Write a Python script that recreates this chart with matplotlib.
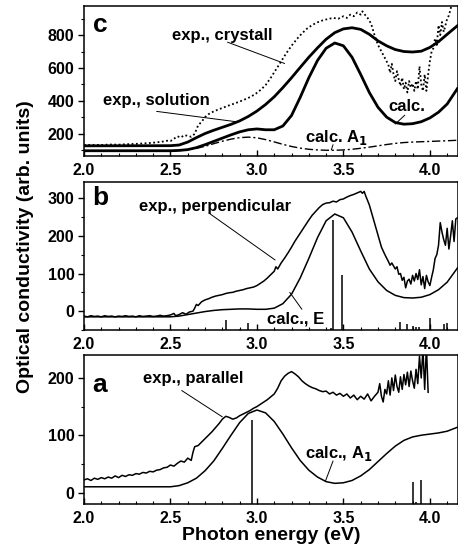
import matplotlib
matplotlib.use('Agg')
import matplotlib.pyplot as plt
from matplotlib.ticker import MultipleLocator

plt.rcParams['font.family'] = ['Liberation Sans', 'DejaVu Sans']
plt.rcParams['font.weight'] = 'bold'
plt.rcParams['axes.linewidth'] = 1.1

# ---- panel c: solution / crystal spectra and calculation ----
c_x = [2.00, 2.50, 2.55, 2.60, 2.65, 2.70, 2.75, 2.80, 2.85, 2.90, 2.95, 3.00, 3.05, 3.10,
       3.15, 3.20, 3.25, 3.30, 3.35, 3.40, 3.45, 3.50, 3.55, 3.60, 3.65, 3.70, 3.75, 3.80,
       3.85, 3.90, 3.95, 4.00, 4.05, 4.10, 4.16]
c_solution = [125, 126, 130, 148, 175, 200, 220, 238, 256, 277, 304, 337, 377, 424,
              480, 540, 603, 665, 722, 775, 815, 838, 845, 835, 805, 765, 735, 712,
              700, 697, 702, 725, 760, 805, 858]
c_calc = [95, 95, 97, 102, 114, 132, 152, 172, 192, 210, 223, 228, 223, 223,
          246, 310, 420, 540, 645, 720, 752, 735, 665, 560, 450, 360, 300, 267,
          257, 260, 272, 295, 330, 380, 475]
c_calc_a1 = [92, 93, 96, 102, 110, 122, 138, 153, 166, 175, 178, 174, 163, 149,
             134, 121, 111, 104, 100, 98, 98, 100, 104, 110, 117, 125, 133, 140,
             145, 148, 150, 152, 154, 156, 159]

cryst_x = [2.00, 2.05, 2.10, 2.15, 2.20, 2.25, 2.30, 2.35, 2.40, 2.45, 2.48, 2.50, 2.52,
           2.54, 2.56, 2.58, 2.60, 2.62, 2.64, 2.66, 2.68, 2.70, 2.72, 2.75, 2.78, 2.81,
           2.84, 2.87, 2.90, 2.93, 2.96, 2.99, 3.02, 3.05, 3.08, 3.11, 3.14, 3.17, 3.20,
           3.23, 3.26, 3.29, 3.32, 3.35, 3.38, 3.41, 3.44, 3.47, 3.50, 3.52, 3.54, 3.56,
           3.58, 3.60, 3.61, 3.62, 3.64, 3.66, 3.68, 3.70, 3.72, 3.74, 3.76, 3.77, 3.78,
           3.79, 3.80, 3.81, 3.82, 3.83, 3.84, 3.85, 3.86, 3.87, 3.88, 3.89, 3.90, 3.91,
           3.92, 3.93, 3.94, 3.95, 3.96, 3.97, 3.98, 3.99, 4.00, 4.01, 4.02, 4.03, 4.04,
           4.05, 4.06, 4.07, 4.08, 4.09, 4.10, 4.11, 4.12, 4.13]
c_crystal = [130, 131, 130, 133, 132, 135, 137, 140, 144, 150, 156, 154, 168,
             183, 176, 190, 186, 180, 198, 250, 272, 300, 318, 335, 348, 360,
             372, 383, 395, 408, 422, 440, 465, 495, 540, 590, 640, 690, 735,
             775, 810, 840, 862, 878, 890, 898, 905, 900, 915, 905, 925, 915,
             938, 925, 945, 930, 905, 870, 800, 740, 700, 660, 620, 570, 625,
             560, 520, 580, 530, 490, 540, 470, 510, 450, 520, 480, 505, 460,
             520, 470, 610, 500, 460, 560, 460, 560, 640, 700, 720, 780, 740,
             860, 800, 880, 820, 860, 900, 920, 960, 1000]

# ---- panel b: perpendicular polarisation ----
b_calc_x = [2.00, 2.50, 2.55, 2.60, 2.65, 2.70, 2.75, 2.80, 2.85, 2.90, 2.95, 3.00, 3.05,
            3.10, 3.15, 3.20, 3.25, 3.30, 3.35, 3.40, 3.45, 3.50, 3.55, 3.60, 3.65, 3.70,
            3.75, 3.80, 3.85, 3.90, 3.95, 4.00, 4.05, 4.10, 4.16]
b_calc_e = [-15, -15, -13, -9, -5, -1, 2, 4, 5, 6, 6, 5, 5,
            8, 20, 45, 88, 140, 195, 240, 258, 248, 210, 160, 112, 78,
            55, 42, 36, 35, 37, 44, 57, 77, 115]

b_exp_x = [2.00, 2.02, 2.04, 2.06, 2.08, 2.10, 2.12, 2.14, 2.16, 2.18, 2.20, 2.22, 2.24,
           2.26, 2.28, 2.30, 2.32, 2.34, 2.36, 2.38, 2.40, 2.42, 2.44, 2.46, 2.48, 2.50,
           2.52, 2.53, 2.55, 2.57, 2.59, 2.61, 2.63, 2.64, 2.65, 2.66, 2.68, 2.70, 2.72,
           2.74, 2.76, 2.78, 2.80, 2.82, 2.84, 2.86, 2.88, 2.90, 2.92, 2.94, 2.96, 2.98,
           3.00, 3.02, 3.04, 3.06, 3.08, 3.10, 3.11, 3.12, 3.14, 3.16, 3.18, 3.20, 3.22,
           3.24, 3.26, 3.28, 3.30, 3.32, 3.34, 3.36, 3.38, 3.40, 3.42, 3.44, 3.46, 3.48,
           3.50, 3.52, 3.54, 3.56, 3.58, 3.60, 3.61, 3.62, 3.63, 3.65, 3.67, 3.69, 3.71,
           3.72, 3.74, 3.76, 3.77, 3.78, 3.80, 3.81, 3.82, 3.83, 3.84, 3.85, 3.86, 3.87,
           3.88, 3.89, 3.90, 3.91, 3.92, 3.93, 3.94, 3.95, 3.96, 3.97, 3.98, 3.99, 4.00,
           4.01, 4.02, 4.03, 4.04, 4.05, 4.06, 4.07, 4.08, 4.09, 4.10, 4.11, 4.12, 4.13,
           4.14, 4.15, 4.16]
b_exp = [-13, -15, -12, -14, -13, -15, -12, -14, -13, -15, -13, -14, -12,
         -14, -13, -15, -12, -14, -13, -12, -14, -13, -11, -13, -12, -10,
         -6, -12, -9, -4, -8, -2, 0, 8, 18, 15, 25, 30, 33,
         37, 40, 42, 44, 47, 49, 50, 53, 55, 57, 60, 62, 64,
         68, 74, 80, 88, 97, 106, 118, 112, 128, 141, 155, 170, 186,
         200, 214, 228, 242, 255, 265, 275, 283, 287, 288, 292, 290, 296,
         298, 303, 307, 310, 314, 318, 313, 318, 305, 282, 250, 218, 185,
         170, 150, 132, 122, 128, 112, 118, 98, 100, 82, 90, 62, 80,
         85, 72, 95, 80, 100, 84, 110, 70, 92, 60, 95, 78, 68,
         90, 110, 140, 150, 175, 235, 210, 190, 175, 220, 165, 200, 240,
         185, 245, 248]

b_stick_x = [2.82, 2.90, 2.95, 3.29, 3.43, 3.44, 3.49, 3.83, 3.87, 3.90, 3.92, 3.94, 4.00, 4.08, 4.10]
b_stick_h = [-24, -46, -31, -46, -44, 242, 96, -28, -33, -39, -42, -41, -18, -35, -31]

# ---- panel a: parallel polarisation ----
a_calc_x = [2.00, 2.50, 2.55, 2.60, 2.65, 2.70, 2.75, 2.80, 2.85, 2.90, 2.95, 3.00, 3.05,
            3.10, 3.15, 3.20, 3.25, 3.30, 3.35, 3.40, 3.45, 3.50, 3.55, 3.60, 3.65, 3.70,
            3.75, 3.80, 3.85, 3.90, 3.95, 4.00, 4.05, 4.10, 4.16]
a_calc_a1 = [10, 10, 12, 17, 25, 38, 55, 77, 100, 122, 138, 144, 139,
             124, 102, 78, 56, 39, 27, 19, 16, 17, 21, 29, 40, 54,
             68, 81, 91, 97, 100, 102, 104, 107, 114]

a_exp_x = [2.00, 2.02, 2.04, 2.06, 2.08, 2.10, 2.12, 2.14, 2.16, 2.18, 2.20, 2.22, 2.24,
           2.26, 2.28, 2.30, 2.32, 2.34, 2.36, 2.38, 2.40, 2.42, 2.44, 2.46, 2.48, 2.50,
           2.52, 2.54, 2.56, 2.58, 2.60, 2.62, 2.63, 2.64, 2.66, 2.68, 2.70, 2.72, 2.74,
           2.76, 2.78, 2.80, 2.82, 2.84, 2.86, 2.88, 2.90, 2.92, 2.94, 2.96, 2.98, 3.00,
           3.02, 3.04, 3.06, 3.08, 3.10, 3.12, 3.14, 3.16, 3.18, 3.20, 3.22, 3.24, 3.26,
           3.28, 3.30, 3.32, 3.34, 3.36, 3.38, 3.40, 3.42, 3.44, 3.46, 3.48, 3.50, 3.52,
           3.54, 3.56, 3.58, 3.60, 3.62, 3.64, 3.66, 3.68, 3.70, 3.71, 3.72, 3.73, 3.74,
           3.75, 3.76, 3.77, 3.78, 3.79, 3.80, 3.81, 3.82, 3.83, 3.84, 3.85, 3.86, 3.87,
           3.88, 3.89, 3.90, 3.91, 3.92, 3.93, 3.94, 3.95, 3.96, 3.97, 3.98, 3.99]
a_exp = [22, 24, 21, 25, 23, 26, 24, 27, 25, 29, 26, 30, 28,
         31, 30, 33, 32, 35, 34, 37, 36, 39, 40, 43, 44, 48,
         46, 51, 55, 53, 60, 56, 70, 80, 82, 88, 94, 100, 106,
         113, 120, 128, 133, 131, 128, 130, 134, 137, 140, 143, 147, 150,
         154, 158, 162, 167, 172, 182, 195, 203, 208, 211, 207, 202, 195,
         190, 186, 183, 181, 178, 176, 177, 172, 175, 170, 173, 168, 172,
         165, 170, 162, 168, 163, 172, 160, 168, 175, 190, 168, 158, 180,
         172, 195, 170, 200, 178, 205, 185, 175, 202, 180, 206, 188, 210,
         185, 212, 195, 182, 215, 190, 238, 200, 250, 180, 255, 175]

a_stick_x = [2.97, 3.90, 3.92, 3.95]
a_stick_h = [126, 19, -16, 22]

xlim = (2.0, 4.16)
c_ylim = (65, 977)
b_ylim = (-50, 343)
a_ylim = (-20, 240)

fig = plt.figure(figsize=(4.58, 5.54), dpi=100)
left, width = 0.1834, 0.8156
ax_c = fig.add_axes([left, 0.719, width, 0.270])
ax_b = fig.add_axes([left, 0.4043, width, 0.2672])
ax_a = fig.add_axes([left, 0.0903, width, 0.2689])


def style(ax, ylim, major, minor):
    ax.set_xlim(*xlim)
    ax.set_ylim(*ylim)
    ax.xaxis.set_major_locator(MultipleLocator(0.5))
    ax.xaxis.set_minor_locator(MultipleLocator(0.1))
    ax.yaxis.set_major_locator(MultipleLocator(major))
    ax.yaxis.set_minor_locator(MultipleLocator(minor))
    ax.xaxis.set_major_formatter(plt.FormatStrFormatter('%.1f'))
    ax.tick_params(axis='x', which='major', direction='in', length=4, width=1.0,
                   pad=5, labelsize=11.5)
    ax.tick_params(axis='x', which='minor', direction='in', length=2.5, width=0.8)
    ax.tick_params(axis='y', which='major', direction='out', length=4, width=1.0,
                   pad=3, labelsize=11.5)
    ax.tick_params(axis='y', which='minor', direction='out', length=2.5, width=0.8)
    for lab in ax.get_xticklabels() + ax.get_yticklabels():
        lab.set_fontweight('bold')


def pointer(ax, start, end):
    ax.annotate('', xy=end, xytext=start,
                arrowprops=dict(arrowstyle='-', lw=0.7, color='black',
                                shrinkA=0, shrinkB=0))


tfs = 12

# panel c
ax_c.plot(cryst_x, c_crystal, color='black', lw=1.3, linestyle=(0, (1, 1.4)))
ax_c.plot(c_x, c_solution, color='black', lw=2.0)
ax_c.plot(c_x, c_calc, color='black', lw=2.0)
ax_c.plot(c_x, c_calc_a1, color='black', lw=1.0, linestyle=(0, (6, 2, 1.5, 2)))
style(ax_c, c_ylim, 200, 100)
ax_c.text(2.05, 860, 'c', fontsize=19, fontweight='bold', va='center')
ax_c.text(2.80, 800, 'exp., crystall', fontsize=tfs, fontweight='bold', va='center', ha='center')
pointer(ax_c, (2.83, 757), (3.16, 627))
ax_c.text(2.42, 403, 'exp., solution', fontsize=tfs, fontweight='bold', va='center', ha='center')
pointer(ax_c, (2.42, 335), (2.88, 272))
ax_c.text(3.865, 365, 'calc.', fontsize=tfs, fontweight='bold', va='center', ha='center')
pointer(ax_c, (3.855, 312), (3.80, 258))
ax_c.text(3.46, 175, 'calc. A$_\\mathbf{1}$', fontsize=tfs, fontweight='bold', va='center', ha='center')
pointer(ax_c, (3.44, 132), (3.43, 100))

# panel b
ax_b.plot(b_exp_x, b_exp, color='black', lw=1.1)
ax_b.plot(b_calc_x, b_calc_e, color='black', lw=1.1)
ax_b.vlines(b_stick_x, b_ylim[0], b_stick_h, color='black', lw=1.1)
style(ax_b, b_ylim, 100, 50)
ax_b.text(2.05, 300, 'b', fontsize=19, fontweight='bold', va='center')
ax_b.text(2.76, 278, 'exp., perpendicular', fontsize=tfs, fontweight='bold', va='center', ha='center')
pointer(ax_b, (2.73, 258), (3.105, 136))
ax_b.text(3.225, -20, 'calc., E', fontsize=tfs, fontweight='bold', va='center', ha='center')
pointer(ax_b, (3.26, 5), (3.19, 50))

# panel a
ax_a.plot(a_exp_x, a_exp, color='black', lw=1.1)
ax_a.plot(a_calc_x, a_calc_a1, color='black', lw=1.1)
ax_a.vlines(a_stick_x, a_ylim[0], a_stick_h, color='black', lw=1.1)
style(ax_a, a_ylim, 100, 50)
ax_a.text(2.05, 187, 'a', fontsize=19, fontweight='bold', va='center')
ax_a.text(2.63, 199, 'exp., parallel', fontsize=tfs, fontweight='bold', va='center', ha='center')
pointer(ax_a, (2.565, 178), (2.80, 132))
ax_a.text(3.475, 68, 'calc., A$_\\mathbf{1}$', fontsize=tfs, fontweight='bold', va='center', ha='center')
pointer(ax_a, (3.44, 55), (3.395, 19))

ax_a.set_xlabel('Photon energy (eV)', fontsize=14, fontweight='bold', labelpad=1)
fig.text(0.055, 0.554, 'Optical conductivity (arb. units)', rotation=90,
         fontsize=14, fontweight='bold', ha='center', va='center')

fig.savefig('out.png', dpi=100)
